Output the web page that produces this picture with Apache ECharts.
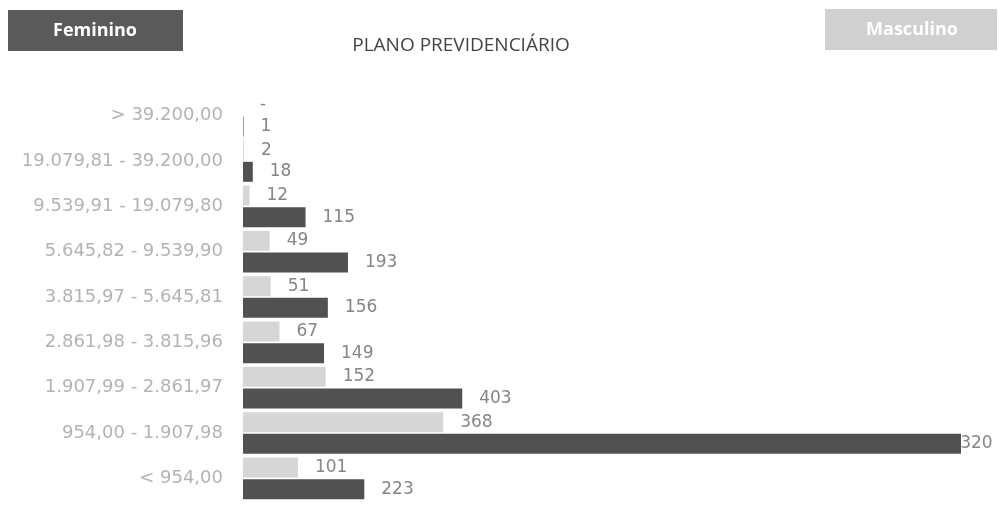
<!DOCTYPE html>
<html>
<head>
<meta charset="utf-8">
<script src="https://cdn.jsdelivr.net/npm/echarts@6/dist/echarts.min.js"></script>
<style>html,body{margin:0;padding:0;background:#fff;}#c{width:999px;height:518px;}</style>
</head>
<body>
<div id="c"></div>
<script>
var categories = ['< 954,00','954,00 - 1.907,98','1.907,99 - 2.861,97','2.861,98 - 3.815,96','3.815,97 - 5.645,81','5.645,82 - 9.539,90','9.539,91 - 19.079,80','19.079,81 - 39.200,00','> 39.200,00'];
var feminino = [223, 1320, 403, 149, 156, 193, 115, 18, 1];
var masculino = [101, 368, 152, 67, 51, 49, 12, 2, 0];
var titleText = 'PLANO PREVIDENCIÁRIO';

var DARK = '#515151', LIGHT = '#d6d6d6';
function fmt(v){
  if (!v) return '-';
  return String(v).replace(/\B(?=(\d{3})+(?!\d))/g, '.');
}
var chart = echarts.init(document.getElementById('c'), null, {renderer:'canvas'});
var valFont = '"DejaVu Sans", sans-serif';
var labelStyle = {show:true, position:'right', distance:17, color:'#858585', fontSize:17, fontFamily:valFont, formatter:function(p){return fmt(p.value);}};
var femData = feminino.map(function(v){
  if (v >= 1000) {
    var s = fmt(v), head = s.slice(0, s.indexOf('.') + 1), tail = s.slice(s.indexOf('.') + 1);
    return {value:v, label:{distance:-17, formatter:'{a|' + head + '}{b|' + tail + '}',
      rich:{a:{color:DARK, fontSize:17, fontFamily:valFont}, b:{color:'#858585', fontSize:17, fontFamily:valFont}}}};
  }
  return v;
});
chart.setOption({
  animation:false,
  title:{text:titleText, left:456, top:31, textAlign:'center', textStyle:{fontSize:19, fontWeight:'normal', color:'#444', fontFamily:'"Open Sans", Lato, sans-serif'}},
  grid:{left:243, right:38, top:93, bottom:17, containLabel:false},
  xAxis:{type:'value', min:0, max:1320, show:false},
  yAxis:{type:'category', data:categories, axisLine:{show:false}, axisTick:{show:false},
    axisLabel:{margin:20, color:'#b3b3b3', fontSize:18, fontFamily:'"DejaVu Sans", sans-serif'}},
  series:[
    {name:'Masculino', type:'bar', data:masculino, barWidth:20, barGap:'8%', itemStyle:{color:LIGHT}, label:labelStyle},
    {name:'Feminino', type:'bar', data:femData, barWidth:20, barGap:'8%', itemStyle:{color:DARK}, label:labelStyle}
  ],
  graphic:[
    {type:'rect', left:8, top:10, shape:{width:175, height:41}, style:{fill:'#5a5a5a'}},
    {type:'text', style:{text:'Feminino', x:95, y:31, textAlign:'center', textVerticalAlign:'middle', fill:'#fff', fontSize:18, fontWeight:'bold', fontFamily:'"Open Sans", sans-serif'}},
    {type:'rect', left:825, top:9, shape:{width:172, height:41}, style:{fill:'#d0d0d0'}},
    {type:'text', style:{text:'Masculino', x:912, y:30, textAlign:'center', textVerticalAlign:'middle', fill:'#fff', fontSize:18, fontWeight:'bold', fontFamily:'"Open Sans", sans-serif'}}
  ]
});
</script>
</body>
</html>
